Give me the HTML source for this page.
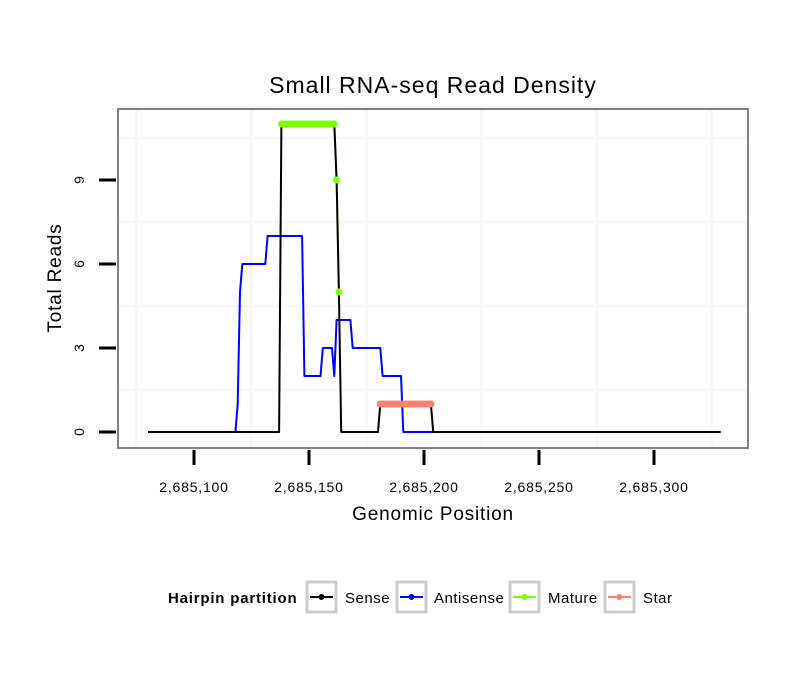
<!DOCTYPE html>
<html><head><meta charset="utf-8"><style>
body{margin:0;background:#fff}
svg{display:block;font-family:"Liberation Sans",sans-serif}
</style></head><body>
<svg id="chart" width="810" height="690" viewBox="0 0 810 690" xmlns="http://www.w3.org/2000/svg">
<rect width="810" height="690" fill="#fff"/>
<text x="433" y="93" font-size="23" letter-spacing="1" text-anchor="middle" fill="#000">Small RNA-seq Read Density</text>
<g id="grid"></g>
<g id="series"></g>
<rect x="118" y="109" width="630" height="339" fill="none" stroke="#7f7f7f" stroke-width="2"/>
<g id="axes"></g>
<text x="433" y="520" font-size="19" letter-spacing="0.8" text-anchor="middle">Genomic Position</text>
<text transform="translate(61,278) rotate(-90)" font-size="19" letter-spacing="0.8" text-anchor="middle">Total Reads</text>
<g font-size="15" letter-spacing="0.5">
<text x="168" y="603" font-weight="bold" letter-spacing="0.8">Hairpin partition</text>
<g>
<rect x="307" y="582" width="29" height="30" fill="#fff" stroke="#ccc" stroke-width="3"/>
<line x1="310" y1="597" x2="333" y2="597" stroke="#000" stroke-width="2"/><circle cx="321.5" cy="597" r="3" fill="#000"/>
<text x="345" y="603">Sense</text></g>
<g>
<rect x="397" y="582" width="29" height="30" fill="#fff" stroke="#ccc" stroke-width="3"/>
<line x1="400" y1="597" x2="423" y2="597" stroke="#00f" stroke-width="2"/><circle cx="411.5" cy="597" r="3" fill="#00f"/>
<text x="434" y="603">Antisense</text></g>
<g>
<rect x="510" y="582" width="29" height="30" fill="#fff" stroke="#ccc" stroke-width="3"/>
<line x1="513" y1="597" x2="536" y2="597" stroke="#7fff00" stroke-width="2"/><circle cx="524.5" cy="597" r="3" fill="#7fff00"/>
<text x="548" y="603">Mature</text></g>
<g>
<rect x="605" y="582" width="29" height="30" fill="#fff" stroke="#ccc" stroke-width="3"/>
<line x1="608" y1="597" x2="631" y2="597" stroke="#fa8072" stroke-width="2"/><circle cx="619.5" cy="597" r="3" fill="#fa8072"/>
<text x="643" y="603">Star</text></g>
</g>
</svg>
<script>
const xTicks=[2685100,2685150,2685200,2685250,2685300];
const xTickLabels=["2,685,100","2,685,150","2,685,200","2,685,250","2,685,300"];
const yTicks=[0,3,6,9];
const xGrid=[2685075,2685125,2685175,2685225,2685275,2685325];
const yGrid=[1.5,4.5,7.5,10.5];
const sensePos=[2685080,2685137,2685138,2685161,2685162,2685163,2685164,2685180,2685181,2685203,2685204,2685329];
const senseVal=[0,0,11,11,9,5,0,0,1,1,0,0];
const antiPos=[2685080,2685118,2685119,2685120,2685121,2685131,2685132,2685147,2685148,2685155,2685156,2685160,2685161,2685162,2685168,2685169,2685181,2685182,2685190,2685191,2685204];
const antiVal=[0,0,1,5,6,6,7,7,2,2,3,3,2,4,4,3,3,2,2,0,0];
const maturePos=[2685138,2685139,2685140,2685141,2685142,2685143,2685144,2685145,2685146,2685147,2685148,2685149,2685150,2685151,2685152,2685153,2685154,2685155,2685156,2685157,2685158,2685159,2685160,2685161,2685162,2685163];
const matureVal=[11,11,11,11,11,11,11,11,11,11,11,11,11,11,11,11,11,11,11,11,11,11,11,11,9,5];
const starPos=[2685181,2685182,2685183,2685184,2685185,2685186,2685187,2685188,2685189,2685190,2685191,2685192,2685193,2685194,2685195,2685196,2685197,2685198,2685199,2685200,2685201,2685202,2685203];
const starVal=[1,1,1,1,1,1,1,1,1,1,1,1,1,1,1,1,1,1,1,1,1,1,1];

const NS="http://www.w3.org/2000/svg";
function xs(v){return 194+(v-2685100)*2.3;}
function ys(v){return 432-v*28;}
function mk(tag,attrs,parent){const e=document.createElementNS(NS,tag);for(const k in attrs)e.setAttribute(k,attrs[k]);parent.appendChild(e);return e;}
const grid=document.getElementById('grid'),series=document.getElementById('series'),axes=document.getElementById('axes');
xGrid.forEach(v=>{const x=xs(v);if(x<119||x>747)return;
const l=mk('line',{x1:x,x2:x,y1:110,y2:447,stroke:'#f8f8f8','stroke-width':3},grid);

});
yGrid.forEach(v=>{const y=ys(v);
const l=mk('line',{x1:119,x2:747,y1:y,y2:y,stroke:'#f8f8f8','stroke-width':3},grid);

});
function path(pos,val){return pos.map((p,i)=>(i?'L':'M')+xs(p).toFixed(1)+' '+ys(val[i]).toFixed(1)).join(' ');}
let p;
p=mk('path',{d:path(maturePos,matureVal),fill:'none',stroke:'#7fff00','stroke-width':2},series);


p=mk('path',{d:path(starPos,starVal),fill:'none',stroke:'#fa8072','stroke-width':2},series);


p=mk('path',{d:path(antiPos,antiVal),fill:'none',stroke:'#00f','stroke-width':2,'stroke-linejoin':'round'},series);


p=mk('path',{d:path(sensePos,senseVal),fill:'none',stroke:'#000','stroke-width':2,'stroke-linejoin':'round'},series);


maturePos.forEach((v,i)=>{const c=mk('circle',{cx:xs(v),cy:ys(matureVal[i]),r:3.5,fill:'#7fff00'},series);

});
starPos.forEach((v,i)=>{const c=mk('circle',{cx:xs(v),cy:ys(starVal[i]),r:3.5,fill:'#fa8072'},series);

});
xTicks.forEach((v,i)=>{const x=xs(v);
const t=mk('line',{x1:x,x2:x,y1:450,y2:465,stroke:'#000','stroke-width':3},axes);


const tx=mk('text',{x:x,y:492,'font-size':14,'letter-spacing':0.8,'text-anchor':'middle'},axes);tx.textContent=xTickLabels[i];

});
yTicks.forEach(v=>{const y=ys(v);
const t=mk('line',{x1:99,x2:116,y1:y,y2:y,stroke:'#000','stroke-width':3},axes);


const tx=mk('text',{transform:`translate(84,${y}) rotate(-90)`,'font-size':14,'text-anchor':'middle'},axes);tx.textContent=String(v);

});
</script>
</body></html>
